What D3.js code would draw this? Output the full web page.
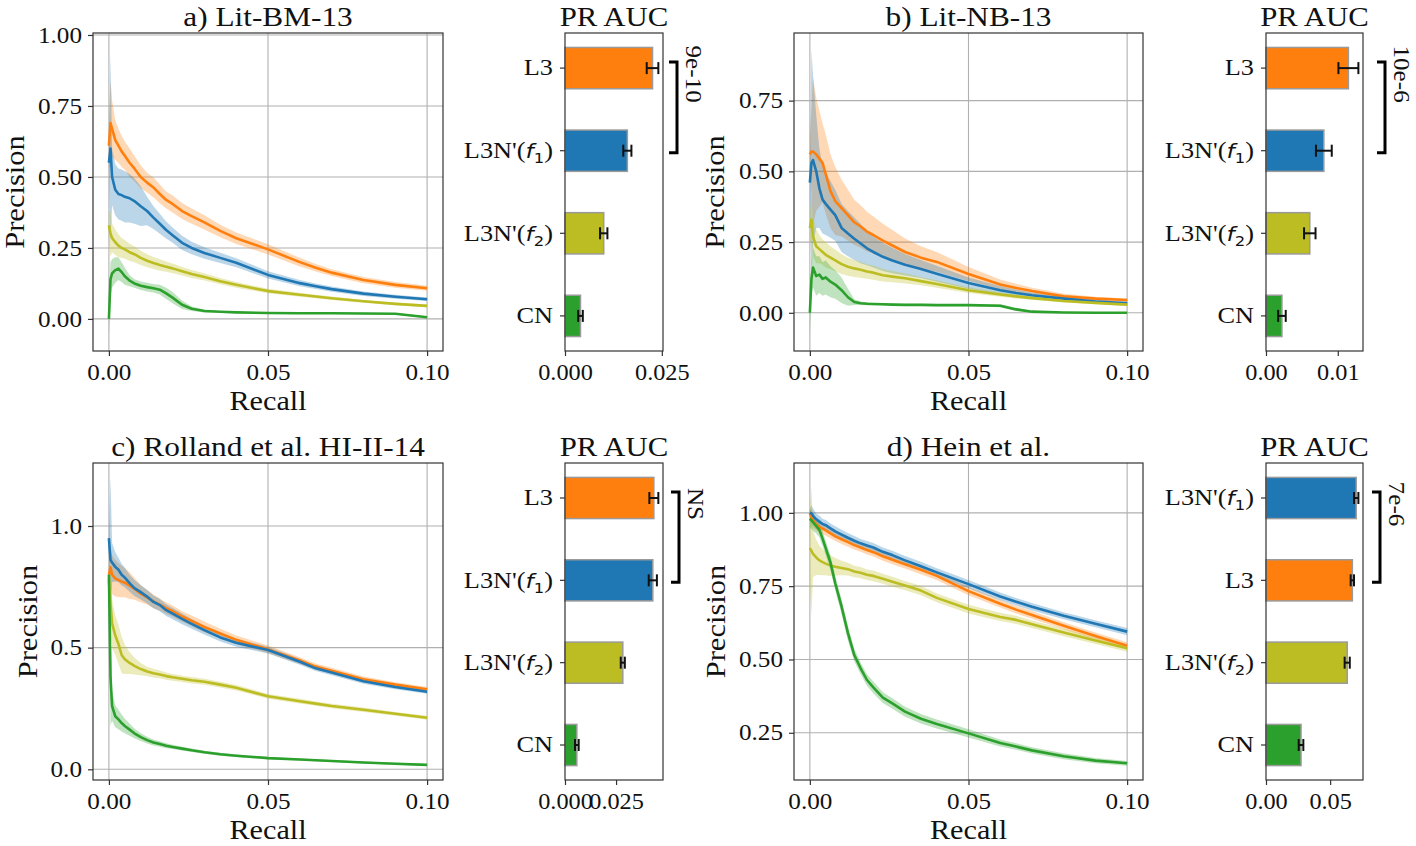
<!DOCTYPE html>
<html><head><meta charset="utf-8">
<script src="https://cdn.jsdelivr.net/npm/d3@7"></script>
<style>body{margin:0;background:#fff;}</style>
</head><body><svg id="c" width="1416" height="846" style="background:#fff"></svg>
<script>
// ---------------- DATA ----------------
const recall = [0, 0.0005, 0.001, 0.002, 0.003, 0.004, 0.005, 0.0065, 0.008, 0.01, 0.012, 0.014, 0.016, 0.018, 0.02, 0.023, 0.026, 0.03, 0.035, 0.04, 0.05, 0.06, 0.065, 0.07, 0.08, 0.09, 0.1];

// a) Lit-BM-13
const aL3  = [0.61, 0.69, 0.67, 0.63, 0.61, 0.59, 0.575, 0.55, 0.53, 0.50, 0.48, 0.463, 0.44, 0.419, 0.405, 0.38, 0.362, 0.34, 0.31, 0.284, 0.245, 0.2, 0.18, 0.163, 0.137, 0.12, 0.108];
const aL3e = [0.08, 0.15, 0.1, 0.07, 0.06, 0.055, 0.05, 0.05, 0.045, 0.04, 0.035, 0.035, 0.033, 0.03, 0.03, 0.028, 0.027, 0.025, 0.022, 0.02, 0.018, 0.015, 0.013, 0.012, 0.011, 0.01, 0.009];
const aF1  = [0.55, 0.6, 0.5, 0.455, 0.44, 0.436, 0.43, 0.425, 0.415, 0.397, 0.38, 0.357, 0.335, 0.313, 0.295, 0.268, 0.25, 0.232, 0.215, 0.198, 0.155, 0.126, 0.115, 0.105, 0.089, 0.078, 0.069];
const aF1e = [0.03, 0.33, 0.1, 0.09, 0.09, 0.09, 0.09, 0.085, 0.08, 0.07, 0.05, 0.04, 0.035, 0.03, 0.027, 0.025, 0.022, 0.02, 0.018, 0.016, 0.013, 0.011, 0.01, 0.009, 0.008, 0.007, 0.006];
const aF2  = [0.33, 0.3, 0.285, 0.27, 0.258, 0.25, 0.245, 0.235, 0.228, 0.215, 0.205, 0.197, 0.19, 0.184, 0.178, 0.168, 0.158, 0.148, 0.133, 0.12, 0.098, 0.085, 0.079, 0.073, 0.062, 0.053, 0.046];
const aF2e = [0.05, 0.08, 0.05, 0.045, 0.04, 0.035, 0.033, 0.03, 0.028, 0.025, 0.023, 0.021, 0.02, 0.018, 0.017, 0.015, 0.014, 0.013, 0.011, 0.01, 0.008, 0.007, 0.006, 0.006, 0.005, 0.005, 0.005];
const aCN  = [0, 0.14, 0.16, 0.172, 0.177, 0.165, 0.15, 0.135, 0.125, 0.117, 0.112, 0.108, 0.103, 0.09, 0.075, 0.05, 0.036, 0.028, 0.025, 0.023, 0.021, 0.02, 0.02, 0.02, 0.019, 0.018, 0.006];
const aCNe = [0.06, 0.06, 0.05, 0.045, 0.04, 0.035, 0.03, 0.02, 0.015, 0.015, 0.015, 0.015, 0.017, 0.02, 0.02, 0.015, 0.008, 0.005, 0.003, 0.003, 0.003, 0.003, 0.003, 0.003, 0.003, 0.003, 0.003];

// b) Lit-NB-13
const bL3  = [0.56, 0.57, 0.57, 0.56, 0.545, 0.53, 0.49, 0.43, 0.395, 0.37, 0.345, 0.32, 0.305, 0.287, 0.275, 0.255, 0.238, 0.215, 0.195, 0.18, 0.137, 0.1, 0.088, 0.077, 0.058, 0.05, 0.045];
const bL3e = [0.05, 0.15, 0.26, 0.2, 0.17, 0.14, 0.14, 0.13, 0.12, 0.1, 0.09, 0.08, 0.075, 0.07, 0.065, 0.06, 0.055, 0.048, 0.04, 0.035, 0.025, 0.018, 0.015, 0.012, 0.009, 0.007, 0.006];
const bF1  = [0.46, 0.53, 0.54, 0.5, 0.44, 0.4, 0.385, 0.365, 0.345, 0.3, 0.28, 0.262, 0.245, 0.228, 0.215, 0.198, 0.185, 0.17, 0.155, 0.138, 0.105, 0.08, 0.07, 0.062, 0.05, 0.04, 0.034];
const bF1e = [0.05, 0.4, 0.3, 0.2, 0.14, 0.12, 0.11, 0.1, 0.09, 0.085, 0.08, 0.075, 0.07, 0.06, 0.055, 0.05, 0.045, 0.038, 0.032, 0.028, 0.02, 0.015, 0.012, 0.01, 0.008, 0.007, 0.006];
const bF2  = [0.3, 0.33, 0.27, 0.235, 0.225, 0.215, 0.205, 0.195, 0.185, 0.172, 0.163, 0.157, 0.152, 0.146, 0.142, 0.133, 0.128, 0.122, 0.112, 0.102, 0.08, 0.065, 0.058, 0.052, 0.042, 0.035, 0.029];
const bF2e = [0.05, 0.08, 0.07, 0.06, 0.05, 0.045, 0.045, 0.04, 0.038, 0.035, 0.032, 0.03, 0.028, 0.026, 0.025, 0.022, 0.02, 0.018, 0.015, 0.013, 0.01, 0.008, 0.007, 0.006, 0.006, 0.005, 0.005];
const bCN  = [0.0, 0.12, 0.16, 0.13, 0.135, 0.12, 0.125, 0.11, 0.1, 0.08, 0.055, 0.038, 0.034, 0.032, 0.031, 0.03, 0.029, 0.028, 0.028, 0.027, 0.027, 0.025, 0.012, 0.004, 0.001, 0.0, 0.0];
const bCNe = [0.08, 0.06, 0.07, 0.07, 0.065, 0.06, 0.06, 0.055, 0.05, 0.045, 0.03, 0.01, 0.006, 0.005, 0.004, 0.004, 0.004, 0.004, 0.004, 0.004, 0.004, 0.005, 0.006, 0.003, 0.001, 0.001, 0.001];

// c) Rolland et al. HI-II-14
const cL3  = [0.8, 0.83, 0.8, 0.785, 0.778, 0.772, 0.767, 0.755, 0.742, 0.722, 0.707, 0.69, 0.677, 0.662, 0.65, 0.628, 0.61, 0.585, 0.558, 0.532, 0.493, 0.447, 0.422, 0.405, 0.37, 0.348, 0.329];
const cL3e = [0.05, 0.08, 0.08, 0.075, 0.07, 0.065, 0.06, 0.055, 0.045, 0.035, 0.03, 0.028, 0.025, 0.024, 0.023, 0.022, 0.022, 0.022, 0.02, 0.018, 0.016, 0.014, 0.013, 0.012, 0.011, 0.01, 0.009];
const cF1  = [0.95, 0.86, 0.85, 0.832, 0.82, 0.8, 0.788, 0.765, 0.745, 0.728, 0.71, 0.688, 0.675, 0.654, 0.64, 0.618, 0.598, 0.572, 0.542, 0.52, 0.49, 0.442, 0.415, 0.398, 0.362, 0.338, 0.319];
const cF1e = [0.03, 0.34, 0.08, 0.06, 0.05, 0.045, 0.04, 0.035, 0.033, 0.03, 0.028, 0.026, 0.025, 0.024, 0.023, 0.022, 0.02, 0.018, 0.017, 0.016, 0.014, 0.012, 0.011, 0.011, 0.01, 0.009, 0.008];
const cF2  = [0.78, 0.68, 0.6, 0.55, 0.515, 0.47, 0.452, 0.437, 0.425, 0.412, 0.402, 0.395, 0.39, 0.383, 0.378, 0.372, 0.366, 0.36, 0.348, 0.335, 0.3, 0.28, 0.27, 0.26, 0.245, 0.228, 0.212];
const cF2e = [0.1, 0.12, 0.1, 0.08, 0.08, 0.075, 0.06, 0.045, 0.035, 0.025, 0.02, 0.018, 0.016, 0.015, 0.014, 0.013, 0.013, 0.012, 0.012, 0.011, 0.01, 0.01, 0.009, 0.009, 0.009, 0.008, 0.008];
const cCN  = [0.8, 0.38, 0.26, 0.218, 0.205, 0.19, 0.178, 0.163, 0.148, 0.132, 0.12, 0.11, 0.104, 0.097, 0.092, 0.085, 0.078, 0.07, 0.062, 0.056, 0.046, 0.04, 0.037, 0.034, 0.028, 0.023, 0.018];
const cCNe = [0.05, 0.2, 0.06, 0.045, 0.04, 0.035, 0.03, 0.025, 0.02, 0.016, 0.014, 0.012, 0.011, 0.01, 0.009, 0.008, 0.007, 0.006, 0.006, 0.005, 0.005, 0.004, 0.004, 0.004, 0.004, 0.004, 0.004];

// d) Hein et al.
const dL3  = [1.0, 0.985, 0.975, 0.96, 0.952, 0.946, 0.94, 0.93, 0.92, 0.91, 0.9, 0.89, 0.882, 0.873, 0.866, 0.852, 0.84, 0.825, 0.806, 0.785, 0.733, 0.69, 0.67, 0.652, 0.615, 0.58, 0.547];
const dL3e = [0.01, 0.03, 0.025, 0.02, 0.02, 0.018, 0.018, 0.017, 0.016, 0.016, 0.016, 0.015, 0.015, 0.015, 0.015, 0.015, 0.015, 0.015, 0.015, 0.014, 0.014, 0.013, 0.013, 0.013, 0.012, 0.012, 0.012];
const dF1  = [1.0, 0.998, 0.99, 0.978, 0.97, 0.962, 0.958, 0.947, 0.937, 0.926, 0.915, 0.905, 0.896, 0.889, 0.882, 0.867, 0.856, 0.838, 0.818, 0.797, 0.757, 0.715, 0.697, 0.68, 0.649, 0.622, 0.595];
const dF1e = [0.01, 0.03, 0.025, 0.02, 0.02, 0.018, 0.018, 0.017, 0.017, 0.016, 0.016, 0.016, 0.015, 0.015, 0.015, 0.015, 0.015, 0.015, 0.015, 0.014, 0.014, 0.013, 0.013, 0.013, 0.012, 0.012, 0.012];
const dF2  = [0.88, 0.87, 0.86, 0.848, 0.838, 0.832, 0.827, 0.82, 0.816, 0.812, 0.808, 0.8, 0.796, 0.789, 0.785, 0.775, 0.765, 0.752, 0.735, 0.71, 0.672, 0.645, 0.635, 0.62, 0.592, 0.565, 0.538];
const dF2e = [0.12, 0.22, 0.08, 0.06, 0.05, 0.045, 0.04, 0.035, 0.03, 0.025, 0.022, 0.02, 0.019, 0.018, 0.018, 0.017, 0.017, 0.016, 0.016, 0.015, 0.015, 0.014, 0.014, 0.013, 0.013, 0.012, 0.012];
const dCN  = [0.98, 0.975, 0.968, 0.955, 0.942, 0.912, 0.88, 0.83, 0.76, 0.68, 0.59, 0.515, 0.47, 0.43, 0.405, 0.37, 0.35, 0.322, 0.298, 0.28, 0.248, 0.215, 0.203, 0.19, 0.17, 0.155, 0.146];
const dCNe = [0.03, 0.03, 0.03, 0.025, 0.025, 0.025, 0.025, 0.025, 0.025, 0.025, 0.025, 0.022, 0.02, 0.02, 0.02, 0.018, 0.018, 0.017, 0.016, 0.015, 0.014, 0.012, 0.011, 0.011, 0.01, 0.009, 0.008];

// PR AUC bars
const barLabelsA = ["L3", "L3N'(f_1)", "L3N'(f_2)", "CN"];
const barValuesA = [0.0226, 0.0161, 0.0100, 0.0040];
const barErrA    = [0.0015, 0.00105, 0.00095, 0.0006];
const barLabelsB = ["L3", "L3N'(f_1)", "L3N'(f_2)", "CN"];
const barValuesB = [0.01148, 0.00806, 0.00610, 0.00222];
const barErrB    = [0.00139, 0.0011, 0.0008, 0.00053];
const barLabelsC = ["L3", "L3N'(f_1)", "L3N'(f_2)", "CN"];
const barValuesC = [0.0435, 0.0430, 0.0283, 0.0058];
const barErrC    = [0.0022, 0.0020, 0.0010, 0.0009];
const barLabelsD = ["L3N'(f_1)", "L3", "L3N'(f_2)", "CN"];
const barValuesD = [0.0703, 0.0673, 0.0633, 0.0273];
const barErrD    = [0.0017, 0.0013, 0.0020, 0.0018];

const sigLabels = ["9e-10", "10e-6", "NS", "7e-6"];
const titles = ["a) Lit-BM-13", "b) Lit-NB-13", "c) Rolland et al. HI-II-14", "d) Hein et al."];
const xTicks = [0, 0.05, 0.1];
const yTicksA = [0, 0.25, 0.5, 0.75, 1.0];
const yTicksB = [0, 0.25, 0.5, 0.75];
const yTicksC = [0, 0.5, 1.0];
const yTicksD = [0.25, 0.5, 0.75, 1.0];
const barTicksA = [0, 0.025];
const barTicksB = [0, 0.01];
const barTicksC = [0, 0.025];
const barTicksD = [0, 0.05];

// ---------------- STYLE / LAYOUT ----------------
const FONT = '"Liberation Serif","Times New Roman",serif';
const COLORS = {"L3":"#ff7f0e", "L3N'(f_1)":"#1f77b4", "L3N'(f_2)":"#bcbd22", "CN":"#2ca02c"};
const SPINE = "#333333";

const panels = [
  {title:titles[0], line:{x:93,y:33,w:350,h:318}, bar:{x:565,y:33,w:98,h:318}, ylabX:24, yDom:[-0.113,1.007], yTicks:yTicksA, yFmt:".2f",
   series:[["L3",aL3,aL3e],["L3N'(f_1)",aF1,aF1e],["L3N'(f_2)",aF2,aF2e],["CN",aCN,aCNe]],
   bars:[barLabelsA,barValuesA,barErrA], barTicks:barTicksA, barFmt:".3f", brDx:14, sig:sigLabels[0]},
  {title:titles[1], line:{x:794,y:33,w:349,h:318}, bar:{x:1266,y:33,w:97,h:318}, ylabX:724, yDom:[-0.135,0.989], yTicks:yTicksB, yFmt:".2f",
   series:[["L3",bL3,bL3e],["L3N'(f_1)",bF1,bF1e],["L3N'(f_2)",bF2,bF2e],["CN",bCN,bCNe]],
   bars:[barLabelsB,barValuesB,barErrB], barTicks:barTicksB, barFmt:".2f", brDx:22, sig:sigLabels[1]},
  {title:titles[2], line:{x:93,y:463,w:350,h:317}, bar:{x:565,y:463,w:98,h:317}, ylabX:37, yDom:[-0.044,1.259], yTicks:yTicksC, yFmt:".1f",
   series:[["L3",cL3,cL3e],["L3N'(f_1)",cF1,cF1e],["L3N'(f_2)",cF2,cF2e],["CN",cCN,cCNe]],
   bars:[barLabelsC,barValuesC,barErrC], barTicks:barTicksC, barFmt:".3f", brDx:16, sig:sigLabels[2]},
  {title:titles[3], line:{x:794,y:463,w:349,h:317}, bar:{x:1266,y:463,w:97,h:317}, ylabX:725, yDom:[0.089,1.17], yTicks:yTicksD, yFmt:".2f",
   series:[["L3",dL3,dL3e],["L3N'(f_1)",dF1,dF1e],["L3N'(f_2)",dF2,dF2e],["CN",dCN,dCNe]],
   bars:[barLabelsD,barValuesD,barErrD], barTicks:barTicksD, barFmt:".2f", brDx:17, sig:sigLabels[3]},
];

const svg = d3.select("#c");

function addText(x, y, str, size, sx, opts={}) {
  const rot = opts.rotate ? ` rotate(${opts.rotate})` : "";
  return svg.append("text")
    .attr("transform", `translate(${x},${y})${rot} scale(${sx},1)`)
    .attr("text-anchor", opts.anchor || "middle")
    .attr("font-family", FONT).attr("font-size", size).attr("fill", "#111")
    .text(str);
}

function setLabel(t, label) {
  t.text(null);
  const m = label.match(/^(.*)\(f_(\d)\)$/);
  if (!m) { t.text(label); return; }
  t.append("tspan").text(m[1] + "(");
  t.append("tspan").attr("font-family", "DejaVu Sans").attr("font-style", "italic").attr("font-size", 20).text("f");
  t.append("tspan").attr("font-family", "DejaVu Sans").attr("font-size", 14).attr("dy", 5).text(m[2]);
  t.append("tspan").attr("dy", -5).text(")");
}

function styleAxis(g, sx) {
  g.select(".domain").remove();
  g.selectAll(".tick line").attr("stroke", SPINE).attr("stroke-width", 1.2);
  g.selectAll(".tick text").attr("font-family", FONT).attr("font-size", 22.5).attr("fill", "#111")
    .each(function () {
      const s = d3.select(this);
      const x = +s.attr("x") || 0;
      s.attr("x", 0).attr("transform", `translate(${x},0) scale(${sx},1)`);
    });
}

panels.forEach((p, pi) => {
  // ---------- line chart ----------
  const L = p.line;
  const x = d3.scaleLinear().domain([-0.005, 0.105]).range([L.x, L.x + L.w]);
  const y = d3.scaleLinear().domain(p.yDom).range([L.y + L.h, L.y]);

  const clipId = "clip" + pi;
  svg.append("clipPath").attr("id", clipId).append("rect")
    .attr("x", L.x).attr("y", L.y).attr("width", L.w).attr("height", L.h);

  const grid = svg.append("g").attr("stroke", "#b0b0b0").attr("stroke-width", 1.1);
  grid.selectAll(".gv").data(xTicks).join("line")
    .attr("x1", d => x(d)).attr("x2", d => x(d)).attr("y1", L.y).attr("y2", L.y + L.h);
  grid.selectAll(".gh").data(p.yTicks).join("line")
    .attr("y1", d => y(d)).attr("y2", d => y(d)).attr("x1", L.x).attr("x2", L.x + L.w);

  const plot = svg.append("g").attr("clip-path", `url(#${clipId})`);
  p.series.forEach(([name, mean, err]) => {
    const pts = recall.map((r, i) => ({r, m: mean[i], e: err[i]}));
    plot.append("path").datum(pts)
      .attr("fill", COLORS[name]).attr("fill-opacity", 0.3).attr("stroke", "none")
      .attr("d", d3.area().x(d => x(d.r)).y0(d => y(d.m - d.e)).y1(d => y(d.m + d.e)));
  });
  p.series.forEach(([name, mean, err]) => {
    const pts = recall.map((r, i) => ({r, m: mean[i]}));
    plot.append("path").datum(pts)
      .attr("fill", "none").attr("stroke", COLORS[name]).attr("stroke-width", 2.6)
      .attr("stroke-linejoin", "round")
      .attr("d", d3.line().x(d => x(d.r)).y(d => y(d.m)));
  });

  const gx = svg.append("g").attr("transform", `translate(0,${L.y + L.h})`)
    .call(d3.axisBottom(x).tickValues(xTicks).tickFormat(d3.format(".2f")).tickSize(5).tickPadding(8));
  styleAxis(gx, 1.12);
  const gy = svg.append("g").attr("transform", `translate(${L.x},0)`)
    .call(d3.axisLeft(y).tickValues(p.yTicks).tickFormat(d3.format(p.yFmt)).tickSize(5).tickPadding(6));
  styleAxis(gy, 1.12);

  svg.append("rect").attr("x", L.x).attr("y", L.y).attr("width", L.w).attr("height", L.h)
    .attr("fill", "none").attr("stroke", SPINE).attr("stroke-width", 1.2);

  addText(L.x + L.w / 2, L.y - 7, p.title, 27, 1.16);
  addText(L.x + L.w / 2, L.y + L.h + 59, "Recall", 26.5, 1.14);
  addText(p.ylabX, L.y + L.h / 2, "Precision", 27, 1.13, {rotate: -90});

  // ---------- bar chart ----------
  const B = p.bar;
  const [labels, vals, errs] = p.bars;
  const xmax = d3.max(vals.map((v, i) => v + errs[i])) * 1.05;
  const bx = d3.scaleLinear().domain([0, xmax]).range([B.x, B.x + B.w]);
  const by = d3.scaleBand().domain(labels).range([B.y, B.y + B.h]).paddingInner(0.5).paddingOuter(0.175);

  const bars = svg.append("g");
  bars.selectAll("rect").data(labels).join("rect")
    .attr("x", bx(0)).attr("y", d => by(d))
    .attr("width", (d, i) => bx(vals[i]) - bx(0)).attr("height", by.bandwidth())
    .attr("fill", d => COLORS[d]).attr("stroke", "#9a9a9a").attr("stroke-width", 1.5);

  const eb = svg.append("g").attr("stroke", "#111").attr("stroke-width", 2);
  labels.forEach((d, i) => {
    const cy = by(d) + by.bandwidth() / 2;
    const x0 = bx(vals[i] - errs[i]), x1 = bx(vals[i] + errs[i]);
    eb.append("line").attr("x1", x0).attr("x2", x1).attr("y1", cy).attr("y2", cy);
    eb.append("line").attr("x1", x0).attr("x2", x0).attr("y1", cy - 6).attr("y2", cy + 6);
    eb.append("line").attr("x1", x1).attr("x2", x1).attr("y1", cy - 6).attr("y2", cy + 6);
  });

  const bgx = svg.append("g").attr("transform", `translate(0,${B.y + B.h})`)
    .call(d3.axisBottom(bx).tickValues(p.barTicks).tickFormat(d3.format(p.barFmt)).tickSize(5).tickPadding(8));
  styleAxis(bgx, 1.08);
  const bgy = svg.append("g").attr("transform", `translate(${B.x},0)`)
    .call(d3.axisLeft(by).tickSize(5).tickPadding(7));
  styleAxis(bgy, 1.17);
  bgy.selectAll(".tick text").each(function (d) { setLabel(d3.select(this), d); });

  svg.append("rect").attr("x", B.x).attr("y", B.y).attr("width", B.w).attr("height", B.h)
    .attr("fill", "none").attr("stroke", SPINE).attr("stroke-width", 1.2);

  addText(B.x + B.w / 2, B.y - 7, "PR AUC", 27, 1.14);

  // significance bracket between the first two bars
  const c0 = by(labels[0]) + by.bandwidth() / 2, c1 = by(labels[1]) + by.bandwidth() / 2;
  const brX = B.x + B.w + p.brDx;
  svg.append("path")
    .attr("d", `M${brX - 8},${c0 - 6}H${brX}V${c1 + 2}H${brX - 8}`)
    .attr("fill", "none").attr("stroke", "#000").attr("stroke-width", 3);
  addText(brX + 9, c0 + 6, p.sig, 22.5, 1.12, {rotate: 90});
});
</script>
</body></html>
